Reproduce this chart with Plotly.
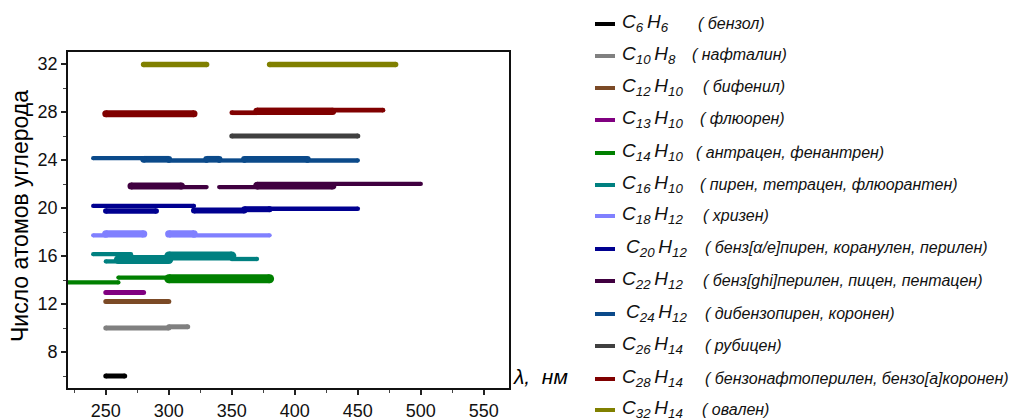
import plotly.graph_objects as go

# Absorption ranges of polycyclic aromatic hydrocarbons vs. number of carbon atoms
formulas = [
    ("6", "6"), ("10", "8"), ("12", "10"), ("13", "10"), ("14", "10"),
    ("16", "10"), ("18", "12"), ("20", "12"), ("22", "12"), ("24", "12"),
    ("26", "14"), ("28", "14"), ("32", "14"),
]
compound_names = [
    "( бензол)",
    "( нафталин)",
    "( бифенил)",
    "( флюорен)",
    "( антрацен, фенантрен)",
    "( пирен, тетрацен, флюорантен)",
    "( хризен)",
    "( бенз[α/e]пирен, коранулен, перилен)",
    "( бенз[ghi]перилен, пицен, пентацен)",
    "( дибензопирен, коронен)",
    "( рубицен)",
    "( бензонафтоперилен, бензо[a]коронен)",
    "( овален)",
]

# wavelength ranges (nm): start, end and level for every segment of each series
seg_x0 = [
    [250],
    [250, 300],
    [250],
    [250],
    [215, 260, 300],
    [240, 250, 260, 300, 350],
    [240, 250, 300, 320],
    [240, 250, 320, 360, 380],
    [270, 310, 340, 370, 370],
    [240, 280, 300, 330, 340, 360, 410],
    [350],
    [250, 350, 370, 370],
    [280, 380],
]
seg_x1 = [
    [265],
    [300, 315],
    [300],
    [280],
    [260, 300, 380],
    [270, 260, 300, 350, 370],
    [250, 280, 320, 380],
    [320, 290, 360, 380, 450],
    [310, 330, 370, 430, 500],
    [280, 300, 330, 340, 360, 410, 450],
    [450],
    [320, 370, 430, 470],
    [330, 480],
]
seg_y = [
    [6.0],
    [10.0, 10.1],
    [12.2],
    [12.95],
    [13.8, 14.2, 14.1],
    [16.15, 15.55, 15.7, 16.0, 15.75],
    [17.72, 17.84, 17.84, 17.72],
    [20.17, 19.74, 19.8, 19.9, 19.94],
    [21.84, 21.74, 21.74, 21.86, 22.01],
    [24.15, 24.06, 23.96, 24.06, 23.96, 24.06, 23.96],
    [26.0],
    [27.86, 27.94, 28.06, 28.15],
    [31.95, 31.95],
]

# line styling
colors = [
    "#000000", "#808080", "#7b4a26", "#800080", "#008000", "#008080",
    "#8080ff", "#000090", "#400040", "#0b4a8a", "#404040", "#800000", "#808000",
]
seg_w = [
    [5],
    [5, 5],
    [5],
    [5],
    [4.3, 4.3, 9],
    [4.3, 4.3, 9, 9, 4.3],
    [4.3, 7.3, 7.3, 4.3],
    [4.3, 5.5, 6, 6, 4.5],
    [7, 4.3, 4.3, 7.5, 4.3],
    [4.3, 6.7, 4.3, 6.7, 4.3, 6.7, 4.3],
    [5],
    [7, 4.7, 7.3, 4.7],
    [5.5, 5.5],
]

FONT = "Liberation Sans, Arial, sans-serif"
W, H = 1019, 420
ML, MR, MT, MB = 68, 510, 52, 32
PW, PH = W - ML - MR, H - MT - MB

fig = go.Figure()
for i in range(len(formulas)):
    for x0, x1, y, w in zip(seg_x0[i], seg_x1[i], seg_y[i], seg_w[i]):
        fig.add_trace(go.Scatter(
            x=[x0, x1], y=[y, y], mode="lines+markers",
            line=dict(color=colors[i], width=w),
            marker=dict(color=colors[i], size=w, line=dict(width=0)),
            showlegend=False, hoverinfo="skip",
        ))


def px_x(p):
    return (p - ML) / PW


def px_y(p):
    return (H - MB - p) / PH


# legend drawn beside the plot
legend_y = [24, 56, 88, 120, 153, 185, 216, 249, 281, 314, 346, 379, 410]
formula_x = [620, 620, 620, 620, 620, 620, 620, 624, 620, 624, 620, 620, 620]
name_x = [696, 690, 701, 698, 694, 698, 701, 703, 701, 703, 703, 703, 700]
shapes = []
annotations = []
for i, (c, h) in enumerate(formulas):
    y = legend_y[i]
    shapes.append(dict(type="line", xref="paper", yref="paper",
                       x0=px_x(595), x1=px_x(615), y0=px_y(y), y1=px_y(y),
                       line=dict(color=colors[i], width=4)))
    annotations.append(dict(
        xref="paper", yref="paper", x=px_x(formula_x[i]), y=px_y(y - 1),
        xanchor="left", yanchor="middle", showarrow=False,
        text=f"<i>C<sub>{c}</sub>\u2009H<sub>{h}</sub></i>",
        font=dict(family=FONT, size=19, color="#111111")))
    annotations.append(dict(
        xref="paper", yref="paper", x=px_x(name_x[i]), y=px_y(y - 1),
        xanchor="left", yanchor="middle", showarrow=False,
        text=f"<i>{compound_names[i]}</i>",
        font=dict(family=FONT, size=16, color="#111111")))

annotations.append(dict(
    xref="paper", yref="paper", x=px_x(20), y=px_y(216),
    xanchor="center", yanchor="middle", showarrow=False, textangle=-90,
    text="Число атомов углерода",
    font=dict(family=FONT, size=23, color="#000000")))
annotations.append(dict(
    xref="paper", yref="paper", x=px_x(511), y=px_y(376),
    xanchor="left", yanchor="middle", showarrow=False,
    text="<i>λ,  нм</i>",
    font=dict(family=FONT, size=21, color="#000000")))

fig.update_layout(
    width=W, height=H,
    margin=dict(l=ML, r=MR, t=MT, b=MB, autoexpand=False),
    paper_bgcolor="white", plot_bgcolor="white",
    shapes=shapes, annotations=annotations,
    showlegend=False,
)
fig.update_xaxes(
    range=[220, 570], tickmode="array", tickvals=[250, 300, 350, 400, 450, 500, 550],
    ticks="outside", ticklen=5, tickwidth=1.5, tickcolor="#222222",
    minor=dict(dtick=25, tick0=225, ticks="outside", ticklen=3, tickwidth=1.2, tickcolor="#444444"),
    showline=True, linecolor="#111111", linewidth=1.8, mirror=True,
    showgrid=False, zeroline=False,
    tickfont=dict(family=FONT, size=18, color="#111111"),
)
fig.update_yaxes(
    range=[5, 33], tickmode="array", tickvals=[8, 12, 16, 20, 24, 28, 32],
    ticks="outside", ticklen=5, tickwidth=1.5, tickcolor="#222222",
    minor=dict(dtick=2, tick0=6, ticks="outside", ticklen=3, tickwidth=1.2, tickcolor="#444444"),
    showline=True, linecolor="#111111", linewidth=1.8, mirror=True,
    showgrid=False, zeroline=False,
    tickfont=dict(family=FONT, size=18, color="#111111"),
)

fig.write_html("out.html")
